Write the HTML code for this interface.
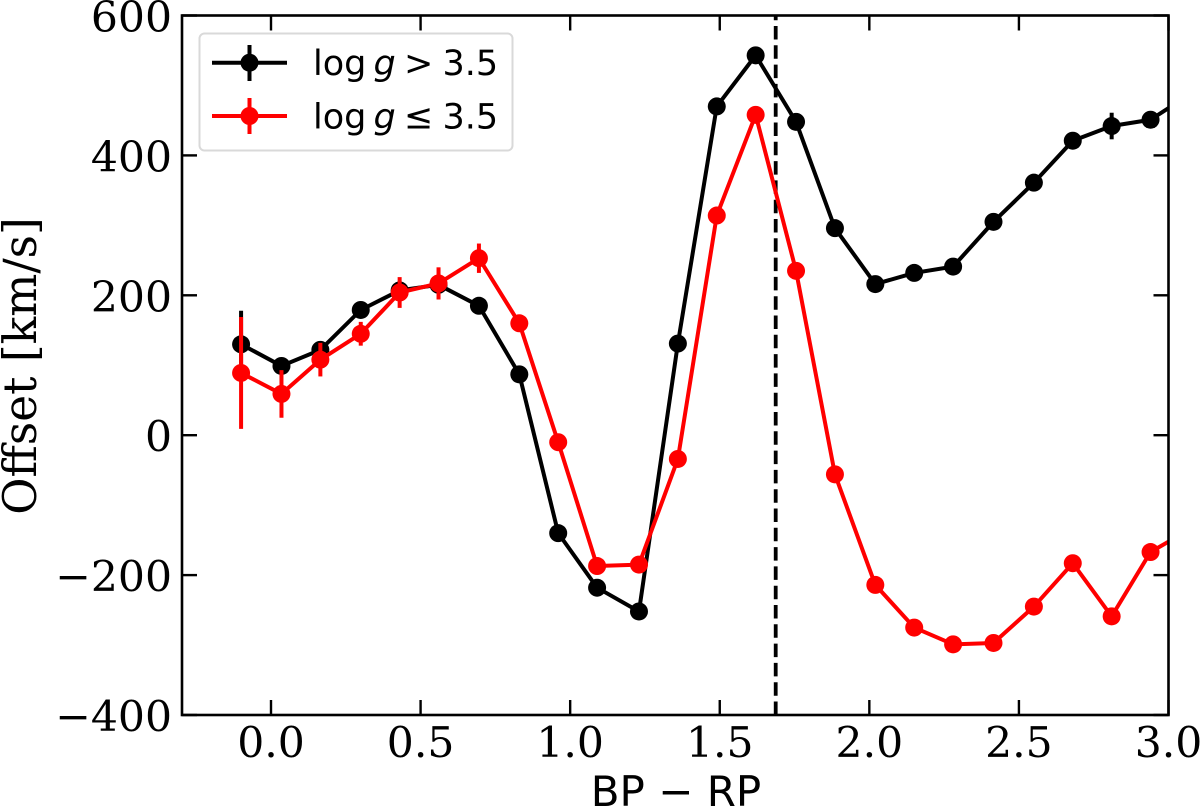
<!DOCTYPE html>
<html lang="en">
<head>
<meta charset="utf-8">
<title>Offset vs BP-RP</title>
<style>
html,body{margin:0;padding:0;background:#fff;width:1200px;height:808px;overflow:hidden}
svg{display:block}
.tick{font-family:"DejaVu Serif","Liberation Serif",serif;font-size:42.5px;fill:#000}
.ylab{font-family:"DejaVu Serif","Liberation Serif",serif;font-size:45.5px;fill:#000}
.xlab{font-family:"DejaVu Sans","Liberation Sans",sans-serif;font-size:42px;fill:#000}
.leg{font-family:"DejaVu Sans","Liberation Sans",sans-serif;font-size:35px;fill:#000}
</style>
</head>
<body>
<svg id="chart" width="1200" height="808" viewBox="0 0 1200 808" xmlns="http://www.w3.org/2000/svg">
  <defs><clipPath id="plot-clip"><rect x="182" y="15.5" width="986.5" height="699.5"/></clipPath></defs>
  <g id="marks" clip-path="url(#plot-clip)"></g>
  <g id="ticks"></g>
  <rect x="182" y="15.5" width="986.5" height="699.5" fill="none" stroke="#000" stroke-width="2.6"/>
  <g id="ticklabels"></g>
  <text class="xlab" x="676" y="806" text-anchor="middle">BP − RP</text>
  <text class="ylab" transform="translate(36,366) rotate(-90)" text-anchor="middle">Offset [km/s]</text>
  <g>
    <rect x="199.500" y="33.500" width="313" height="117" rx="5" fill="#fff" fill-opacity="0.85" stroke="#d9d9d9" stroke-width="2"/>
    <g>
      <line x1="212" x2="287" y1="62.700" y2="62.700" stroke="#000" stroke-width="4"/>
      <line x1="249.500" x2="249.500" y1="45" y2="81" stroke="#000" stroke-width="4"/>
      <circle cx="249.500" cy="62.700" r="9" fill="#000"/>
      <text class="leg" y="75"><tspan x="313">log</tspan><tspan x="373.500" font-style="italic">g</tspan><tspan x="404">&gt;</tspan><tspan x="442.500">3.5</tspan></text>
    </g>
    <g>
      <line x1="212" x2="287" y1="116" y2="116" stroke="#f00" stroke-width="4"/>
      <line x1="249.500" x2="249.500" y1="98" y2="134" stroke="#f00" stroke-width="4"/>
      <circle cx="249.500" cy="116" r="9" fill="#f00"/>
      <text class="leg" y="128.500"><tspan x="313">log</tspan><tspan x="373.500" font-style="italic">g</tspan><tspan x="404">≤</tspan><tspan x="442.500">3.5</tspan></text>
    </g>
  </g>
</svg>
<script>
const colorBins = [-0.10,0.035,0.165,0.30,0.43,0.56,0.695,0.83,0.96,1.09,1.23,1.36,1.49,1.62,1.755,1.885,2.02,2.15,2.28,2.415,2.55,2.68,2.81,2.94,3.07];
const highGravityOffset = [130,99,122,179,207,215,185,87,-140,-218,-252,131,470,543,448,296,216,232,241,305,361,421,442,451,487];
const highGravityError = [48,8,8,8,8,8,6,6,6,6,6,6,6,5,6,6,6,6,6,6,6,8,19,10,10];
const lowGravityOffset = [89,59,108,145,204,217,253,160,-10,-187,-185,-34,314,458,235,-56,-214,-275,-299,-297,-245,-183,-259,-167,-135];
const lowGravityError = [80,34,24,17,22,23,21,10,6,6,6,6,6,5,6,6,6,6,6,6,6,6,6,6,6];
const xTicks = [0,0.5,1,1.5,2,2.5,3];
const xTickLabels = ["0.0","0.5","1.0","1.5","2.0","2.5","3.0"];
const yTicks = [-400,-200,0,200,400,600];
const yTickLabels = ["−400","−200","0","200","400","600"];
const cutoffColor = [1.687];

const NS = "http://www.w3.org/2000/svg";
const xScale = v => 271 + v * 299.17;
const yScale = v => 435.2 - v * 0.6995;
const marks = document.getElementById("marks");
const ticks = document.getElementById("ticks");
const labels = document.getElementById("ticklabels");

function make(tag, parent, attrs) {
  const el = document.createElementNS(NS, tag);
  for (const k in attrs) el.setAttribute(k, attrs[k]);
  parent.appendChild(el);
  return el;
}

cutoffColor.forEach(c => {
  const el = make("line", marks, {x1: xScale(c), x2: xScale(c), y1: 715, y2: 15.5, stroke: "#000", "stroke-width": 3.8, "stroke-dasharray": "13.500 5.800"});
  
  
});

function drawSeries(values, errors, color) {
  const pts = values.map((v, i) => xScale(colorBins[i]) + "," + yScale(v)).join(" ");
  values.forEach((v, i) => {
    const bar = make("line", marks, {x1: xScale(colorBins[i]), x2: xScale(colorBins[i]), y1: yScale(v - errors[i]), y2: yScale(v + errors[i]), stroke: color, "stroke-width": 4});
    
    
  });
  const line = make("polyline", marks, {points: pts, fill: "none", stroke: color, "stroke-width": 4, "stroke-linejoin": "round"});
  
  
  values.forEach((v, i) => {
    const pt = make("circle", marks, {cx: xScale(colorBins[i]), cy: yScale(v), r: 9, fill: color});
    
    
  });
}
drawSeries(highGravityOffset, highGravityError, "#000");
drawSeries(lowGravityOffset, lowGravityError, "#f00");

xTicks.forEach((t, i) => {
  const x = xScale(t);
  const b = make("line", ticks, {x1: x, x2: x, y1: 715, y2: 700, stroke: "#000", "stroke-width": 2.4});
  
  
  const u = make("line", ticks, {x1: x, x2: x, y1: 15.5, y2: 30.5, stroke: "#000", "stroke-width": 2.4});
  
  
  const lab = make("text", labels, {class: "tick", x: x, y: 757, "text-anchor": "middle"});
  lab.textContent = xTickLabels[i];
  
  
});
yTicks.forEach((t, i) => {
  const y = yScale(t);
  const l = make("line", ticks, {x1: 182, x2: 197, y1: y, y2: y, stroke: "#000", "stroke-width": 2.4});
  
  
  const r = make("line", ticks, {x1: 1153.5, x2: 1168.5, y1: y, y2: y, stroke: "#000", "stroke-width": 2.4});
  
  
  const lab = make("text", labels, {class: "tick", x: 172, y: y + 16, "text-anchor": "end"});
  lab.textContent = yTickLabels[i];
  
  
});
</script>
</body>
</html>
